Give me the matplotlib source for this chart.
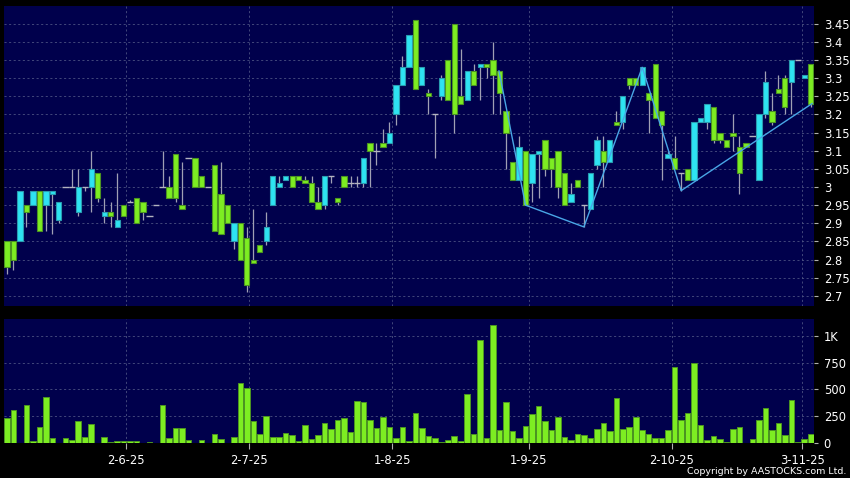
import matplotlib

matplotlib.use("Agg")
import matplotlib.pyplot as plt
from matplotlib.ticker import FixedLocator

OPEN = [
    2.85, 2.85, 2.85, 2.95, 2.95, 2.99, 2.95, 2.98, 2.91, 3.00,
    3.00, 2.93, 3.00, 3.00, 3.04, 2.92, 2.93, 2.89, 2.95, 2.96,
    2.97, 2.96, 2.92, 2.95, 3.00, 3.00, 3.09, 2.95, 3.08, 3.08,
    3.03, 3.00, 3.06, 2.98, 2.95, 2.85, 2.90, 2.86, 2.80, 2.84,
    2.85, 2.95, 3.00, 3.02, 3.03, 3.03, 3.02, 3.01, 2.96, 2.95,
    3.03, 2.97, 3.03, 3.01, 3.01, 3.01, 3.12, 3.10, 3.12, 3.12,
    3.20, 3.28, 3.33, 3.46, 3.28, 3.26, 3.20, 3.25, 3.35, 3.45,
    3.25, 3.24, 3.32, 3.33, 3.34, 3.35, 3.32, 3.21, 3.07, 3.02,
    3.10, 3.01, 3.09, 3.13, 3.08, 3.10, 3.04, 2.96, 3.02, 2.95,
    2.94, 3.06, 3.10, 3.07, 3.18, 3.18, 3.30, 3.30, 3.28, 3.26,
    3.34, 3.21, 3.08, 3.08, 3.04, 3.05, 3.02, 3.18, 3.18, 3.22,
    3.15, 3.13, 3.15, 3.11, 3.12, 3.14, 3.02, 3.20, 3.21, 3.27,
    3.30, 3.29, 3.35, 3.30, 3.34,
]
HIGH = [
    2.85, 2.85, 2.99, 2.95, 2.99, 2.99, 2.99, 2.99, 2.96, 3.00,
    3.05, 3.05, 3.00, 3.10, 3.04, 2.97, 2.96, 3.04, 2.95, 2.965,
    2.97, 2.96, 2.92, 2.95, 3.10, 3.03, 3.09, 3.07, 3.08, 3.08,
    3.03, 3.00, 3.06, 3.07, 2.95, 2.90, 2.90, 2.89, 2.94, 2.84,
    2.93, 3.03, 3.03, 3.03, 3.03, 3.03, 3.03, 3.03, 3.00, 3.03,
    3.03, 2.97, 3.03, 3.03, 3.03, 3.08, 3.12, 3.12, 3.16, 3.18,
    3.28, 3.36, 3.42, 3.46, 3.33, 3.27, 3.20, 3.31, 3.35, 3.45,
    3.38, 3.32, 3.34, 3.34, 3.34, 3.40, 3.32, 3.21, 3.07, 3.14,
    3.10, 3.09, 3.10, 3.13, 3.08, 3.10, 3.04, 3.01, 3.02, 2.95,
    3.04, 3.14, 3.14, 3.13, 3.21, 3.25, 3.30, 3.30, 3.33, 3.26,
    3.34, 3.21, 3.10, 3.14, 3.04, 3.05, 3.18, 3.19, 3.23, 3.22,
    3.15, 3.13, 3.20, 3.14, 3.12, 3.14, 3.20, 3.32, 3.26, 3.31,
    3.31, 3.35, 3.35, 3.31, 3.34,
]
LOW = [
    2.76, 2.77, 2.85, 2.89, 2.95, 2.88, 2.88, 2.87, 2.90, 3.00,
    3.00, 2.92, 2.99, 2.93, 2.96, 2.90, 2.89, 2.89, 2.92, 2.96,
    2.90, 2.91, 2.92, 2.95, 3.00, 2.97, 2.96, 2.94, 3.08, 3.00,
    3.00, 3.00, 2.88, 2.87, 2.90, 2.83, 2.80, 2.71, 2.79, 2.82,
    2.84, 2.95, 3.00, 3.02, 3.00, 3.02, 3.01, 2.96, 2.94, 2.94,
    3.01, 2.95, 3.00, 3.00, 3.00, 3.00, 3.00, 3.06, 3.11, 3.12,
    3.17, 3.28, 3.33, 3.27, 3.28, 3.20, 3.08, 3.24, 3.24, 3.15,
    3.23, 3.24, 3.28, 3.24, 3.30, 3.20, 3.20, 3.05, 3.02, 3.02,
    2.95, 2.96, 2.97, 3.03, 3.00, 2.97, 2.95, 2.96, 3.00, 2.89,
    2.94, 3.05, 3.00, 3.07, 3.17, 3.16, 3.27, 3.28, 3.28, 3.15,
    3.19, 3.02, 3.08, 3.05, 2.99, 3.02, 3.02, 3.18, 3.16, 3.12,
    3.12, 3.11, 3.10, 2.98, 3.11, 3.14, 3.02, 3.19, 3.17, 3.26,
    3.20, 3.20, 3.35, 3.30, 3.22,
]
CLOSE = [
    2.78, 2.80, 2.99, 2.93, 2.99, 2.88, 2.99, 2.99, 2.96, 3.00,
    3.00, 3.00, 3.00, 3.05, 2.97, 2.93, 2.92, 2.91, 2.92, 2.96,
    2.90, 2.93, 2.92, 2.95, 3.00, 2.97, 2.97, 2.94, 3.08, 3.00,
    3.00, 3.00, 2.88, 2.87, 2.90, 2.90, 2.80, 2.73, 2.79, 2.82,
    2.89, 3.03, 3.01, 3.03, 3.00, 3.02, 3.01, 2.96, 2.94, 3.03,
    3.03, 2.96, 3.00, 3.01, 3.01, 3.08, 3.10, 3.10, 3.11, 3.15,
    3.28, 3.33, 3.42, 3.27, 3.33, 3.25, 3.20, 3.30, 3.24, 3.20,
    3.23, 3.32, 3.28, 3.34, 3.33, 3.31, 3.26, 3.15, 3.02, 3.11,
    2.95, 3.09, 3.10, 3.05, 3.05, 3.00, 2.95, 2.98, 3.00, 2.95,
    3.04, 3.13, 3.07, 3.13, 3.17, 3.25, 3.28, 3.28, 3.33, 3.24,
    3.19, 3.17, 3.09, 3.05, 3.04, 3.02, 3.18, 3.19, 3.23, 3.13,
    3.13, 3.11, 3.14, 3.04, 3.11, 3.14, 3.20, 3.29, 3.18, 3.26,
    3.22, 3.35, 3.35, 3.31, 3.23,
]
VOLUME = [
    235, 310, 4, 355, 25, 148, 426, 50, 4, 50,
    31, 204, 62, 182, 3, 56, 12, 25, 19, 25,
    25, 6, 12, 3, 354, 50, 142, 142, 31, 3,
    31, 3, 87, 43, 6, 56, 562, 513, 210, 87,
    254, 56, 56, 99, 80, 19, 173, 43, 80, 186,
    136, 217, 238, 105, 393, 381, 217, 142, 241, 155,
    50, 149, 22, 279, 142, 65, 46, 12, 34, 65,
    22, 458, 90, 956, 53, 1096, 124, 384, 115, 53,
    164, 276, 344, 208, 127, 245, 56, 28, 84, 80,
    50, 136, 186, 115, 421, 130, 149, 241, 124, 87,
    50, 50, 124, 712, 217, 279, 749, 167, 28, 68,
    37, 9, 130, 152, 0, 37, 217, 328, 124, 192,
    80, 402, 12, 43, 87,
]

# zigzag (bar index, price)
TREND_X = [75.9, 80, 89, 98, 104, 124.2]
TREND_Y = [3.32, 2.95, 2.89, 3.33, 2.99, 3.23]

DATE_POS = [18.3, 37.4, 59.45, 80.5, 102.6, 122.7]
DATE_LABELS = ["2-6-25", "2-7-25", "1-8-25", "1-9-25", "2-10-25", "3-11-25"]

PRICE_TICKS = [2.7, 2.75, 2.8, 2.85, 2.9, 2.95, 3.0, 3.05, 3.1, 3.15,
               3.2, 3.25, 3.3, 3.35, 3.4, 3.45]
VOL_TICKS = [0, 250, 500, 750, 1000]
VOL_LABELS = ["0", "250", "500", "750", "1K"]

PANEL = "#00004c"
GRID = "#4c5282"
UP = "#2ee3f2"
UP_EDGE = "#2a9cb0"
DOWN = "#7ded22"
DOWN_EDGE = "#4c9422"
WICK = "#a0a0b4"
TREND = "#49a6e6"


def style_axis(ax):
    ax.set_facecolor(PANEL)
    for s in ax.spines.values():
        s.set_visible(False)
    ax.yaxis.tick_right()
    ax.tick_params(axis="y", colors="#b0b0b0", labelcolor="white",
                   length=3, width=0.8, pad=4, labelsize=8.3)
    ax.tick_params(axis="x", colors="#b0b0b0", labelcolor="white",
                   length=4, width=0.8, pad=4, labelsize=8.3)
    ax.grid(True, color=GRID, linestyle=(0, (2.5, 3)), linewidth=0.6)
    ax.set_axisbelow(True)
    ax.set_xlim(-0.46, 124.5)
    ax.xaxis.set_major_locator(FixedLocator(DATE_POS))


def plot_candles(ax):
    n = len(OPEN)
    xs = list(range(n))
    ax.vlines(xs, LOW, HIGH, color=WICK, linewidth=0.9, zorder=2)
    for i in xs:
        o, c = OPEN[i], CLOSE[i]
        if abs(c - o) < 1e-9:
            ax.hlines(o, i - 0.5, i + 0.5, color="#b4b4c0", linewidth=1.0, zorder=3)
            continue
        up = c > o
        ax.bar(i, abs(c - o), bottom=min(o, c), width=0.82,
               color=UP if up else DOWN, edgecolor=UP_EDGE if up else DOWN_EDGE,
               linewidth=0.8, zorder=3)
    ax.plot(TREND_X, TREND_Y, color=TREND, linewidth=1.0, zorder=4)
    ax.set_ylim(2.672, 3.499)
    ax.set_yticks(PRICE_TICKS)
    ax.set_yticklabels([f"{v:g}" for v in PRICE_TICKS])
    ax.tick_params(axis="x", length=0, labelbottom=False)


def plot_volume(ax):
    xs = list(range(len(VOLUME)))
    ax.bar(xs, VOLUME, width=0.86, color=DOWN, edgecolor=DOWN_EDGE,
           linewidth=0.7, zorder=3)
    ax.set_ylim(0, 1155)
    ax.set_yticks(VOL_TICKS)
    ax.set_yticklabels(VOL_LABELS)
    ax.set_xticklabels(DATE_LABELS)


if __name__ == "__main__":
    plt.rcParams["font.family"] = ["DejaVu Sans"]
    fig = plt.figure(figsize=(8.5, 4.78), dpi=100, facecolor="black")

    ax_price = fig.add_axes([4 / 850, 1 - 306 / 478, 810 / 850, 300 / 478])
    ax_vol = fig.add_axes([4 / 850, 1 - 443.3 / 478, 810 / 850, 124.3 / 478])

    style_axis(ax_price)
    style_axis(ax_vol)
    plot_candles(ax_price)
    plot_volume(ax_vol)

    fig.text(846 / 850, 1 - 471 / 478, "Copyright by AASTOCKS.com Ltd.",
             color="white", fontsize=6.8, ha="right", va="center")

    fig.savefig("out.png", dpi=100, facecolor="black")
